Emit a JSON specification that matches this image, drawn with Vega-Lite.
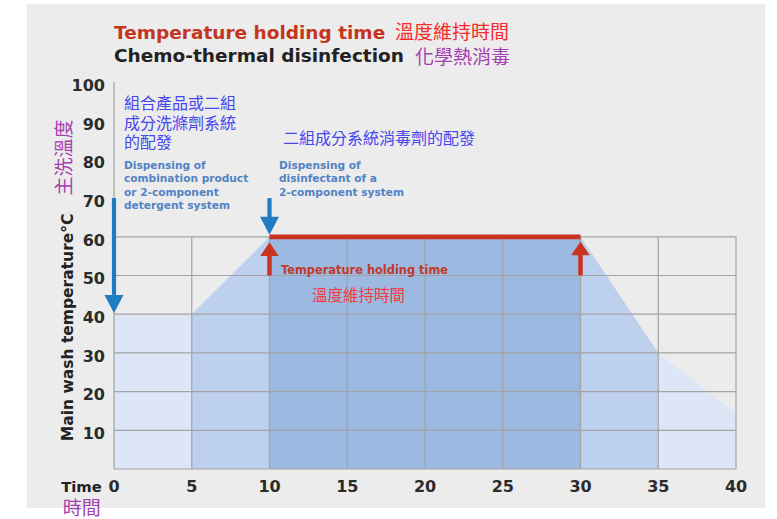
{
  "$schema": "https://vega.github.io/schema/vega-lite/v6.json",
  "width": 622,
  "height": 387,
  "autosize": {"type": "none"},
  "padding": {"left": 114, "top": 82, "right": 41, "bottom": 50},
  "background": "#ffffff",
  "config": {"view": {"stroke": null}},
  "datasets": {
    "bgdata": [{"x": -5.6, "x2": 41.87, "y": -10.08, "y2": 120.2}],
    "bands": [
      {"seg": "A", "x": 0, "y": 40}, {"seg": "A", "x": 5, "y": 40},
      {"seg": "B", "x": 5, "y": 40}, {"seg": "B", "x": 10, "y": 60},
      {"seg": "C", "x": 10, "y": 60}, {"seg": "C", "x": 30, "y": 60},
      {"seg": "D", "x": 30, "y": 60}, {"seg": "D", "x": 35, "y": 30},
      {"seg": "E", "x": 35, "y": 30}, {"seg": "E", "x": 40, "y": 14.5}
    ],
    "gridlines": [
      {"x": 0, "x2": 0, "y": 0, "y2": 100},
      {"x": 5, "x2": 5, "y": 0, "y2": 60},
      {"x": 10, "x2": 10, "y": 0, "y2": 60},
      {"x": 15, "x2": 15, "y": 0, "y2": 60},
      {"x": 20, "x2": 20, "y": 0, "y2": 60},
      {"x": 25, "x2": 25, "y": 0, "y2": 60},
      {"x": 30, "x2": 30, "y": 0, "y2": 60},
      {"x": 35, "x2": 35, "y": 0, "y2": 60},
      {"x": 40, "x2": 40, "y": 0, "y2": 60},
      {"x": 0, "x2": 40, "y": 0, "y2": 0},
      {"x": 0, "x2": 40, "y": 10, "y2": 10},
      {"x": 0, "x2": 40, "y": 20, "y2": 20},
      {"x": 0, "x2": 40, "y": 30, "y2": 30},
      {"x": 0, "x2": 40, "y": 40, "y2": 40},
      {"x": 0, "x2": 40, "y": 50, "y2": 50},
      {"x": 0, "x2": 40, "y": 60, "y2": 60}
    ],
    "xTicks": [{"v": 0}, {"v": 5}, {"v": 10}, {"v": 15}, {"v": 20}, {"v": 25}, {"v": 30}, {"v": 35}, {"v": 40}],
    "yTicks": [{"v": 10}, {"v": 20}, {"v": 30}, {"v": 40}, {"v": 50}, {"v": 60}, {"v": 70}, {"v": 80}, {"v": 90}, {"v": 100}],
    "redLine": [{"x": 10, "x2": 30, "y": 60, "y2": 60}],
    "redShafts": [{"x": 10, "x2": 10, "y": 50, "y2": 56}, {"x": 30, "x2": 30, "y": 50, "y2": 56}],
    "redHeads": [{"x": 10, "y": 58.6}, {"x": 30, "y": 58.8}],
    "blueShafts": [{"x": 0, "x2": 0, "y": 70, "y2": 45}, {"x": 10, "x2": 10, "y": 70, "y2": 64}],
    "blueHeads": [{"x": 0, "y": 40.3}, {"x": 10, "y": 60.5}],
    "t1en": [{"x": 0, "y": 111.2, "text": "Temperature holding time"}],
    "t1zh": [{"x": 18.07, "y": 111.0, "text": "溫度維持時間"}],
    "t2en": [{"x": 0, "y": 105.1, "text": "Chemo-thermal disinfection"}],
    "t2zh": [{"x": 19.36, "y": 104.6, "text": "化學熱消毒"}],
    "blueZh": [
      {"x": 0.64, "y": 93.0, "text": "組合產品或二組"},
      {"x": 0.64, "y": 87.9, "text": "成分洗滌劑系統"},
      {"x": 0.64, "y": 82.9, "text": "的配發"},
      {"x": 10.87, "y": 84.0, "text": "二組成分系統消毒劑的配發"}
    ],
    "blueEn": [
      {"x": 0.64, "y": 77.52, "text": "Dispensing of"},
      {"x": 0.64, "y": 74.06, "text": "combination product"},
      {"x": 0.64, "y": 70.59, "text": "or 2-component"},
      {"x": 0.64, "y": 67.13, "text": "detergent system"},
      {"x": 10.61, "y": 77.52, "text": "Dispensing of"},
      {"x": 10.61, "y": 74.06, "text": "disinfectant of a"},
      {"x": 10.61, "y": 70.59, "text": "2-component system"}
    ],
    "redEn": [{"x": 10.74, "y": 50.34, "text": "Temperature holding time"}],
    "redZh": [{"x": 12.73, "y": 43.4, "text": "溫度維持時間"}],
    "yTitleEn": [{"x": -2.64, "y": 36.6, "text": "Main wash temperature°C"}],
    "yTitleZh": [{"x": -2.78, "y": 80.5, "text": "主洗溫度"}],
    "timeEn": [{"x": -3.4, "y": -5.87, "text": "Time"}],
    "timeZh": [{"x": -3.3, "y": -11.9, "text": "時間"}]
  },
  "layer": [
    {"data": {"name": "bgdata"}, "mark": {"type": "rect", "color": "#ececec"},
     "encoding": {
       "x": {"field": "x", "type": "quantitative", "axis": null, "scale": {"domain": [0, 40], "nice": false, "zero": false}},
       "x2": {"field": "x2"},
       "y": {"field": "y", "type": "quantitative", "axis": null, "scale": {"domain": [0, 100], "nice": false, "zero": false}},
       "y2": {"field": "y2"}}},
    {"data": {"name": "bands"}, "mark": {"type": "area", "opacity": 1},
     "encoding": {
       "x": {"field": "x", "type": "quantitative", "axis": null, "scale": {"domain": [0, 40], "nice": false, "zero": false}},
       "y": {"field": "y", "type": "quantitative", "axis": null, "stack": null, "scale": {"domain": [0, 100], "nice": false, "zero": false}},
       "color": {"field": "seg", "type": "nominal", "legend": null,
         "scale": {"domain": ["A", "B", "C", "D", "E"], "range": ["#dde6f6", "#bdd0ee", "#9cb9e2", "#bdd0ee", "#dde6f6"]}}}},
    {"data": {"name": "gridlines"}, "mark": {"type": "rule", "color": "#a3a3a3", "strokeWidth": 1.2},
     "encoding": {
       "x": {"field": "x", "type": "quantitative", "axis": null}, "x2": {"field": "x2"},
       "y": {"field": "y", "type": "quantitative", "axis": null}, "y2": {"field": "y2"}}},
    {"data": {"name": "xTicks"}, "mark": {"type": "text", "align": "center", "baseline": "alphabetic", "dy": 22.7, "font": "DejaVu Sans", "fontWeight": "bold", "fontSize": 16, "color": "#2b2b2b"},
     "encoding": {
       "x": {"field": "v", "type": "quantitative", "axis": null, "scale": {"domain": [0, 40], "nice": false, "zero": false}},
       "y": {"datum": 0, "type": "quantitative", "axis": null, "scale": {"domain": [0, 100], "nice": false, "zero": false}},
       "text": {"field": "v", "type": "quantitative"}}},
    {"data": {"name": "yTicks"}, "mark": {"type": "text", "align": "right", "baseline": "alphabetic", "dx": -9, "dy": 8.8, "font": "DejaVu Sans", "fontWeight": "bold", "fontSize": 16, "color": "#2b2b2b"},
     "encoding": {
       "x": {"datum": 0, "type": "quantitative", "axis": null, "scale": {"domain": [0, 40], "nice": false, "zero": false}},
       "y": {"field": "v", "type": "quantitative", "axis": null, "scale": {"domain": [0, 100], "nice": false, "zero": false}},
       "text": {"field": "v", "type": "quantitative"}}},
    {"data": {"name": "redShafts"}, "mark": {"type": "rule", "color": "#c8341f", "strokeWidth": 4.5},
     "encoding": {
       "x": {"field": "x", "type": "quantitative", "axis": null}, "x2": {"field": "x2"},
       "y": {"field": "y", "type": "quantitative", "axis": null}, "y2": {"field": "y2"}}},
    {"data": {"name": "redHeads"}, "mark": {"type": "point", "shape": "M-1,1.5L1,1.5L0,0Z", "size": 340, "filled": true, "color": "#c8341f", "opacity": 1, "strokeWidth": 0},
     "encoding": {"x": {"field": "x", "type": "quantitative", "axis": null}, "y": {"field": "y", "type": "quantitative", "axis": null}}},
    {"data": {"name": "redLine"}, "mark": {"type": "rule", "color": "#c8341f", "strokeWidth": 4.8},
     "encoding": {
       "x": {"field": "x", "type": "quantitative", "axis": null}, "x2": {"field": "x2"},
       "y": {"field": "y", "type": "quantitative", "axis": null}, "y2": {"field": "y2"}}},
    {"data": {"name": "blueShafts"}, "mark": {"type": "rule", "color": "#1f7cc1", "strokeWidth": 4.2},
     "encoding": {
       "x": {"field": "x", "type": "quantitative", "axis": null}, "x2": {"field": "x2"},
       "y": {"field": "y", "type": "quantitative", "axis": null}, "y2": {"field": "y2"}}},
    {"data": {"name": "blueHeads"}, "mark": {"type": "point", "shape": "M-1,-1.9L1,-1.9L0,0Z", "size": 361, "filled": true, "color": "#1f7cc1", "opacity": 1, "strokeWidth": 0},
     "encoding": {"x": {"field": "x", "type": "quantitative", "axis": null}, "y": {"field": "y", "type": "quantitative", "axis": null}}},
    {"data": {"name": "t1en"}, "mark": {"type": "text", "align": "left", "baseline": "alphabetic", "font": "DejaVu Sans", "fontWeight": "bold", "fontSize": 18.5, "color": "#c4351f"},
     "encoding": {"x": {"field": "x", "type": "quantitative", "axis": null}, "y": {"field": "y", "type": "quantitative", "axis": null}, "text": {"field": "text"}}},
    {"data": {"name": "t1zh"}, "mark": {"type": "text", "align": "left", "baseline": "alphabetic", "font": "Noto Sans CJK TC", "fontSize": 19, "color": "#f52a2a"},
     "encoding": {"x": {"field": "x", "type": "quantitative", "axis": null}, "y": {"field": "y", "type": "quantitative", "axis": null}, "text": {"field": "text"}}},
    {"data": {"name": "t2en"}, "mark": {"type": "text", "align": "left", "baseline": "alphabetic", "font": "DejaVu Sans", "fontWeight": "bold", "fontSize": 18.5, "color": "#222222"},
     "encoding": {"x": {"field": "x", "type": "quantitative", "axis": null}, "y": {"field": "y", "type": "quantitative", "axis": null}, "text": {"field": "text"}}},
    {"data": {"name": "t2zh"}, "mark": {"type": "text", "align": "left", "baseline": "alphabetic", "font": "Noto Sans CJK TC", "fontSize": 19, "color": "#a43fb0"},
     "encoding": {"x": {"field": "x", "type": "quantitative", "axis": null}, "y": {"field": "y", "type": "quantitative", "axis": null}, "text": {"field": "text"}}},
    {"data": {"name": "blueZh"}, "mark": {"type": "text", "align": "left", "baseline": "alphabetic", "font": "Noto Sans CJK TC", "fontSize": 16, "color": "#4646ee"},
     "encoding": {"x": {"field": "x", "type": "quantitative", "axis": null}, "y": {"field": "y", "type": "quantitative", "axis": null}, "text": {"field": "text"}}},
    {"data": {"name": "blueEn"}, "mark": {"type": "text", "align": "left", "baseline": "alphabetic", "font": "DejaVu Sans", "fontWeight": "bold", "fontSize": 10.6, "color": "#5283c4"},
     "encoding": {"x": {"field": "x", "type": "quantitative", "axis": null}, "y": {"field": "y", "type": "quantitative", "axis": null}, "text": {"field": "text"}}},
    {"data": {"name": "redEn"}, "mark": {"type": "text", "align": "left", "baseline": "alphabetic", "font": "DejaVu Sans", "fontWeight": "bold", "fontSize": 11.4, "color": "#c23a26"},
     "encoding": {"x": {"field": "x", "type": "quantitative", "axis": null}, "y": {"field": "y", "type": "quantitative", "axis": null}, "text": {"field": "text"}}},
    {"data": {"name": "redZh"}, "mark": {"type": "text", "align": "left", "baseline": "alphabetic", "font": "Noto Sans CJK TC", "fontSize": 15.5, "color": "#f03c3c"},
     "encoding": {"x": {"field": "x", "type": "quantitative", "axis": null}, "y": {"field": "y", "type": "quantitative", "axis": null}, "text": {"field": "text"}}},
    {"data": {"name": "yTitleEn"}, "mark": {"type": "text", "align": "center", "baseline": "alphabetic", "angle": 270, "font": "DejaVu Sans", "fontWeight": "bold", "fontSize": 15.5, "color": "#222222"},
     "encoding": {"x": {"field": "x", "type": "quantitative", "axis": null}, "y": {"field": "y", "type": "quantitative", "axis": null}, "text": {"field": "text"}}},
    {"data": {"name": "yTitleZh"}, "mark": {"type": "text", "align": "center", "baseline": "alphabetic", "angle": 270, "font": "Noto Sans CJK TC", "fontSize": 19, "color": "#a43fb0"},
     "encoding": {"x": {"field": "x", "type": "quantitative", "axis": null}, "y": {"field": "y", "type": "quantitative", "axis": null}, "text": {"field": "text"}}},
    {"data": {"name": "timeEn"}, "mark": {"type": "text", "align": "left", "baseline": "alphabetic", "font": "DejaVu Sans", "fontWeight": "bold", "fontSize": 14.8, "color": "#222222"},
     "encoding": {"x": {"field": "x", "type": "quantitative", "axis": null}, "y": {"field": "y", "type": "quantitative", "axis": null}, "text": {"field": "text"}}},
    {"data": {"name": "timeZh"}, "mark": {"type": "text", "align": "left", "baseline": "alphabetic", "font": "Noto Sans CJK TC", "fontSize": 19, "color": "#a43fb0"},
     "encoding": {"x": {"field": "x", "type": "quantitative", "axis": null}, "y": {"field": "y", "type": "quantitative", "axis": null}, "text": {"field": "text"}}}
  ]
}
